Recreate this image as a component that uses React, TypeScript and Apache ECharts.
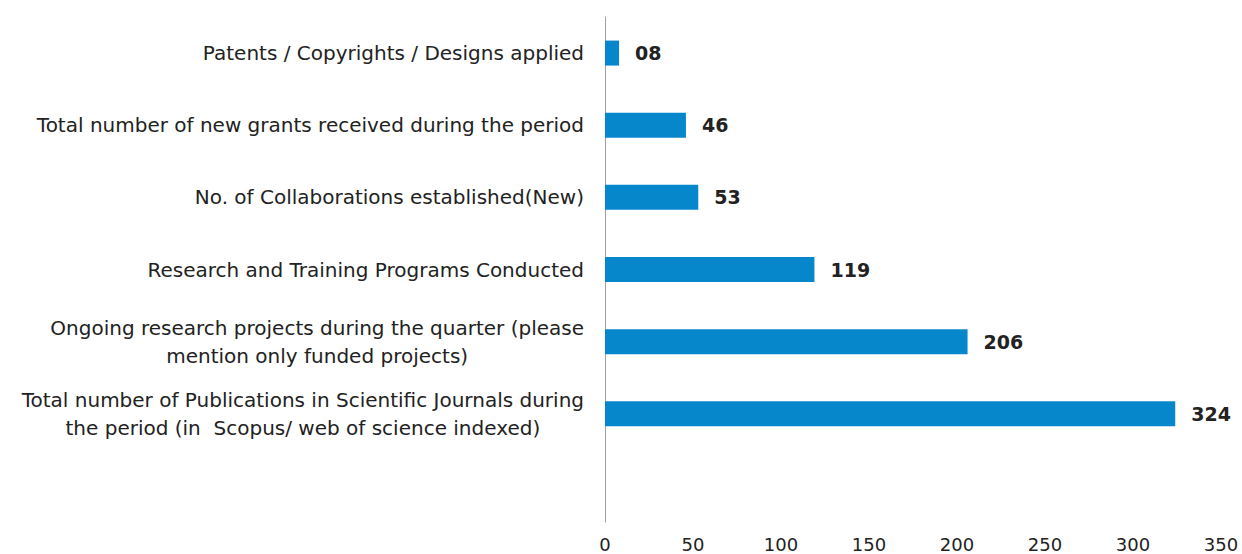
import React, { useEffect, useRef } from "react";
import * as echarts from "echarts";

const categories: string[] = [
  "Patents / Copyrights / Designs applied",
  "Total number of new grants received during the period",
  "No. of Collaborations established(New)",
  "Research and Training Programs Conducted",
  "Ongoing research projects during the quarter (please\nmention only funded projects)",
  "Total number of Publications in Scientific Journals during\nthe period (in  Scopus/ web of science indexed)",
  "",
];

const values: (number | null)[] = [8, 46, 53, 119, 206, 324, null];
const valueLabels: string[] = ["08", "46", "53", "119", "206", "324", ""];

const xTicks = { min: 0, max: 350, interval: 50 };

export default function App() {
  const ref = useRef<HTMLDivElement>(null);
  useEffect(() => {
    if (!ref.current) return;
    const chart = echarts.init(ref.current, undefined, { renderer: "svg" });
    const font = "'DejaVu Sans', sans-serif";
    chart.setOption({
      animation: false,
      backgroundColor: "#ffffff",
      grid: { left: 605, right: 21, top: 17, bottom: 32, containLabel: false },
      xAxis: {
        type: "value",
        min: xTicks.min,
        max: xTicks.max,
        interval: xTicks.interval,
        axisLine: { show: false },
        axisTick: { show: false },
        splitLine: { show: false },
        axisLabel: {
          margin: 13,
          color: "#222",
          fontSize: 18,
          fontFamily: font,
        },
      },
      yAxis: {
        type: "category",
        inverse: true,
        data: categories,
        axisLine: { show: true, lineStyle: { color: "#a0a0a0", width: 1 } },
        axisTick: { show: false },
        splitLine: { show: false },
        axisLabel: {
          margin: 21,
          color: "#222",
          fontSize: 20,
          fontFamily: font,
          formatter: (v: string) =>
            v
              .split("\n")
              .map((l) => `{c|${l}}`)
              .join("\n"),
          rich: {
            c: {
              align: "center",
              fontSize: 20,
              lineHeight: 28,
              color: "#222",
              fontFamily: font,
            },
          },
        },
      },
      series: [
        {
          type: "bar",
          data: values,
          barWidth: 25,
          itemStyle: { color: "#0787cb" },
          label: {
            show: true,
            position: "right",
            distance: 16,
            color: "#222",
            fontSize: 19,
            fontWeight: "bold",
            fontFamily: font,
            formatter: (p: any) => valueLabels[p.dataIndex],
          },
        },
      ],
    });
    return () => chart.dispose();
  }, []);
  return <div ref={ref} style={{ width: 1242, height: 554, position: "absolute", left: 0, top: 0 }} />;
}
